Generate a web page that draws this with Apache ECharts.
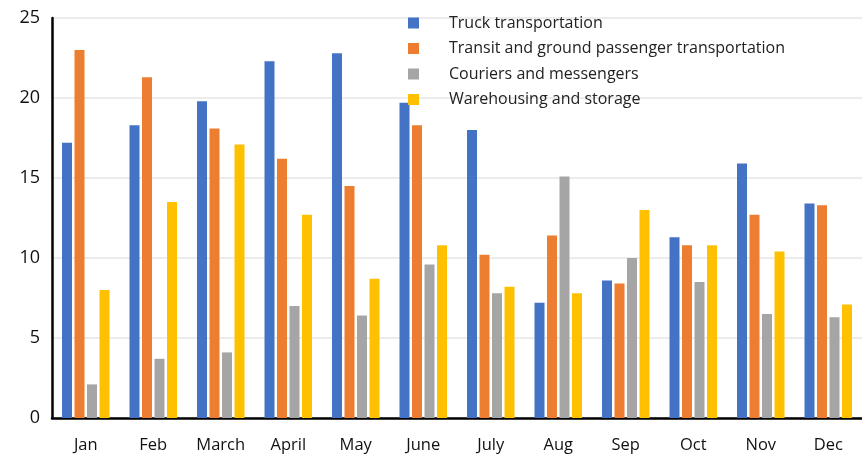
<!DOCTYPE html>
<html>
<head>
<meta charset="utf-8">
<script src="https://cdn.jsdelivr.net/npm/echarts@6/dist/echarts.min.js"></script>
<style>
  html, body { margin: 0; padding: 0; background: #fff; }
  #chart { width: 862px; height: 458px; }
</style>
</head>
<body>
<div id="chart"></div>
<script>
const months = ["Jan", "Feb", "March", "April", "May", "June", "July", "Aug", "Sep", "Oct", "Nov", "Dec"];
const truck = [17.2, 18.3, 19.8, 22.3, 22.8, 19.7, 18.0, 7.2, 8.6, 11.3, 15.9, 13.4];
const transit = [23.0, 21.3, 18.1, 16.2, 14.5, 18.3, 10.2, 11.4, 8.4, 10.8, 12.7, 13.3];
const couriers = [2.1, 3.7, 4.1, 7.0, 6.4, 9.6, 7.8, 15.1, 10.0, 8.5, 6.5, 6.3];
const warehousing = [8.0, 13.5, 17.1, 12.7, 8.7, 10.8, 8.2, 7.8, 13.0, 10.8, 10.4, 7.1];
const yTicks = [0, 5, 10, 15, 20, 25];

const seriesNames = [
  "Truck transportation",
  "Transit and ground passenger transportation",
  "Couriers and messengers",
  "Warehousing and storage"
];
const colors = ["#4472C4", "#ED7D31", "#A5A5A5", "#FFC000"];
const seriesData = [truck, transit, couriers, warehousing];

const chart = echarts.init(document.getElementById("chart"));

const option = {
  animation: false,
  color: colors,
  textStyle: { fontFamily: "Open Sans" },
  grid: { left: 52, right: 0, top: 18, bottom: 40, containLabel: false },
  legend: {
    orient: "vertical",
    left: 403,
    top: 10,
    itemWidth: 11,
    itemHeight: 11,
    itemGap: 9.5,
    icon: "rect",
    textStyle: {
      fontSize: 16,
      lineHeight: 16,
      color: "#222",
      padding: [0, 0, 0, 25]
    },
    data: seriesNames
  },
  xAxis: {
    type: "category",
    data: months,
    axisLine: { lineStyle: { color: "#000", width: 2.5 } },
    axisTick: { show: false },
    axisLabel: { fontSize: 16.5, color: "#111", margin: 19 }
  },
  yAxis: {
    type: "value",
    min: yTicks[0],
    max: yTicks[yTicks.length - 1],
    interval: 5,
    axisLine: { show: true, lineStyle: { color: "#000", width: 2.5 } },
    axisTick: { show: false },
    axisLabel: { fontSize: 18, color: "#111", margin: 12 },
    splitLine: { lineStyle: { color: "#ececec", width: 2 } }
  },
  series: seriesNames.map((name, i) => ({
    name: name,
    type: "bar",
    data: seriesData[i],
    barWidth: 10,
    barGap: "25%",
    itemStyle: { color: colors[i] }
  }))
};

chart.setOption(option);
</script>
</body>
</html>
